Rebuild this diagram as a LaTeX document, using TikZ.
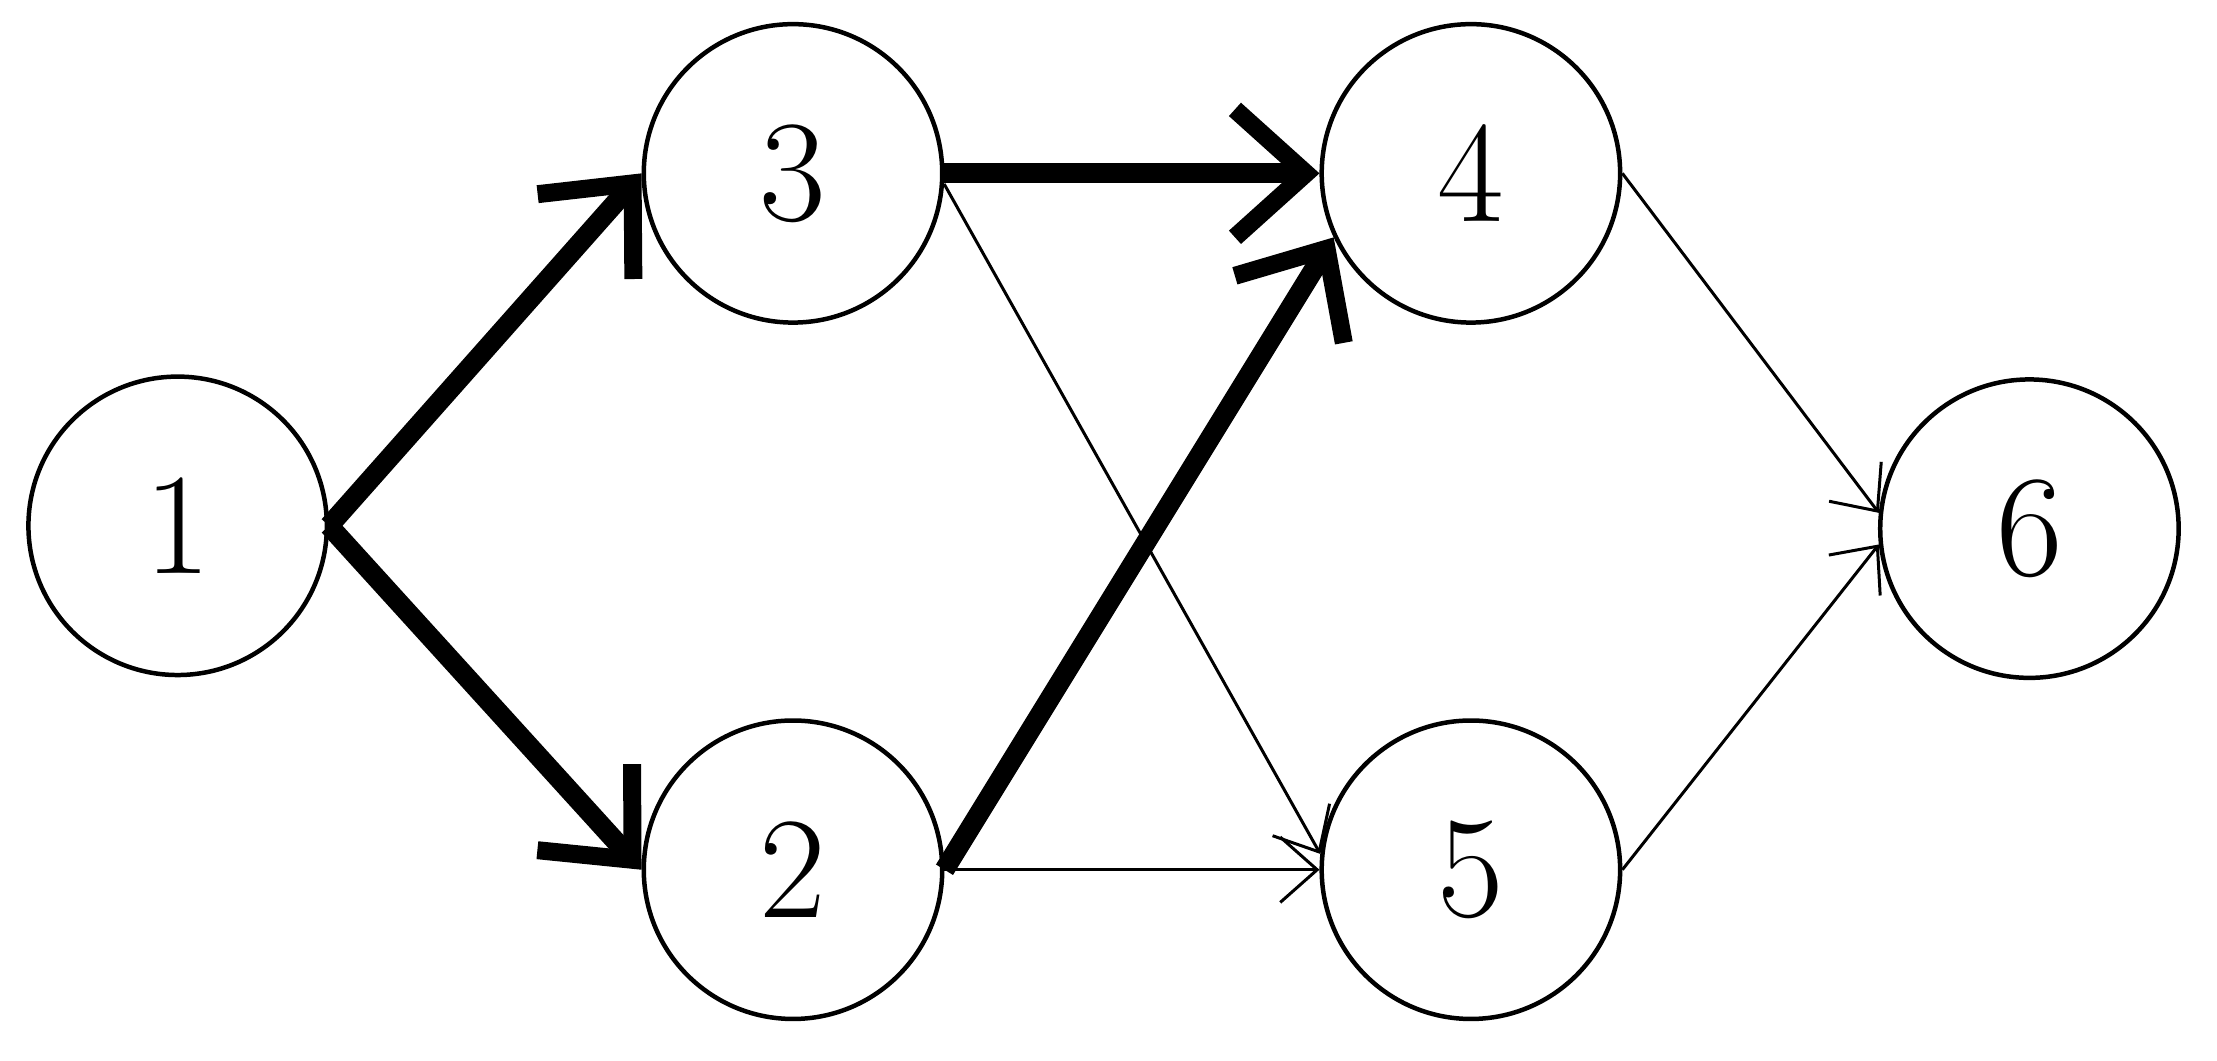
\documentclass[tikz,border=0pt]{standalone}
\usepackage{tikz}
\usetikzlibrary{arrows.meta}

\tikzset{
  state/.style={circle, draw, line width=0.9pt, minimum size=2.1cm, inner sep=0pt,
    font=\fontsize{29}{34}\selectfont},
  heavy/.style={-{Straight Barb[length=5mm,width=9mm,line width=3.6pt]}, line width=4pt},
  light/.style={-{Straight Barb[length=2.6mm,width=4.6mm]}, line width=0.6pt}
}

\begin{document}
\begin{tikzpicture}[y=-1cm]
\useasboundingbox (0,0) rectangle (15.6,7.46);
\node[state] (n1) at (1.25,3.70) {1};
\node[state] (n3) at (5.58,1.22) {3};
\node[state] (n2) at (5.58,6.12) {2};
\node[state] (n4) at (10.35,1.22) {4};
\node[state] (n5) at (10.35,6.12) {5};
\node[state] (n6) at (14.28,3.72) {6};
\draw [heavy] (n1.east) -- (n3.west);
\draw [heavy] (n1.east) -- (n2.west);
\draw [heavy] (n3.east) -- (n4.west);
\draw [heavy] (n2.east) -- (n4.-155);
\draw [light] (n3.-4) -- (n5.174);
\draw [light] (n2.east) -- (n5.west);
\draw [light] (n4.east) -- (n6.174);
\draw [light] (n5.east) -- (n6.186);
\end{tikzpicture}
\end{document}
